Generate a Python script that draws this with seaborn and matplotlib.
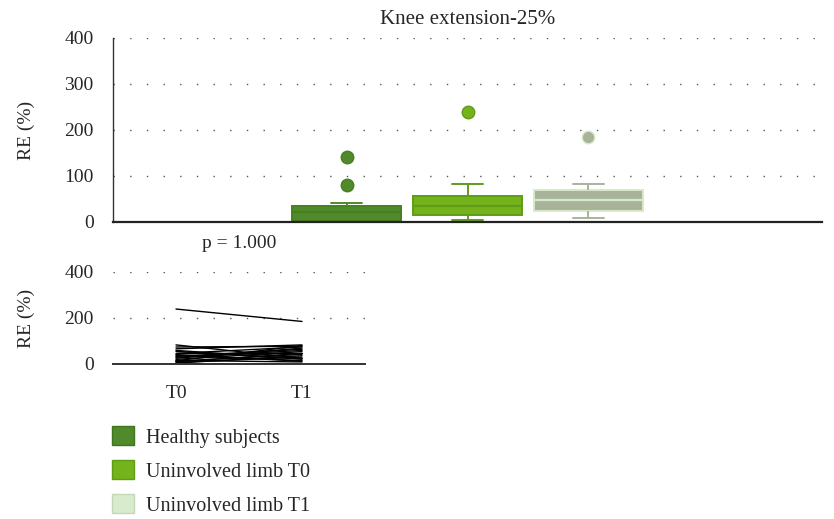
import numpy as np
import pandas as pd
import matplotlib
matplotlib.use("Agg")
import matplotlib.pyplot as plt
from matplotlib.patches import Patch
import seaborn as sns

# ---- data ----
groups = ["Healthy subjects", "Uninvolved limb T0", "Uninvolved limb T1"]
healthy = [0, 1, 2, 2.5, 3.2, 8, 15, 20, 24, 28, 32, 34, 38, 41, 80, 141]
# paired uninvolved-limb values, subject order
limb_t0 = [239, 12, 55, 4, 33, 83, 15.3, 46, 20, 66, 7, 37, 29, 59, 10, 74, 25, 41, 14, 50]
limb_t1 = [185, 42, 21, 36, 64, 25, 9, 74, 54, 83, 30, 15, 59, 22.3, 46, 77, 69, 12, 80, 50]
time_labels = ["T0", "T1"]
p_text = "p = 1.000"
title = "Knee extension-25%"
yticks = [0, 100, 200, 300, 400]
yticks_small = [0, 200, 400]

fills = ["#508a2b", "#74b31c", "#a9b39a"]
edges = ["#47801f", "#5f9d17", "#d6eac8"]
whisk = ["#508a2b", "#5f9d17", "#a9b39a"]
legend_fills = ["#508a2b", "#74b31c", "#d9ebcd"]
legend_edges = ["#3f7420", "#5f9d17", "#c4d8b6"]

sns.set_theme(style="white")
plt.rcParams["font.family"] = ["Liberation Serif", "DejaVu Serif"]
plt.rcParams["font.size"] = 14

df = pd.DataFrame({
    "group": [groups[0]] * len(healthy) + [groups[1]] * len(limb_t0) + [groups[2]] * len(limb_t1),
    "RE": healthy + limb_t0 + limb_t1,
})

fig = plt.figure(figsize=(8.34, 5.19), dpi=100)
ax = fig.add_axes([113 / 834, 1 - 222 / 519, (822 - 113) / 834, (222 - 38) / 519])
ax2 = fig.add_axes([113 / 834, 1 - 364 / 519, (365 - 113) / 834, (364 - 272) / 519])

for i, g in enumerate(groups):
    sub = df[df["group"] == g]
    sns.boxplot(data=sub, x="group", y="RE", order=groups, ax=ax, width=0.9,
                color=fills[i], saturation=1, whis=1.0, linewidth=1.4,
                boxprops=dict(facecolor=fills[i], edgecolor=edges[i]),
                medianprops=dict(color=edges[i], linewidth=1.6),
                whiskerprops=dict(color=whisk[i]),
                capprops=dict(color=whisk[i]),
                flierprops=dict(marker="o", markerfacecolor=fills[i],
                                markeredgecolor=edges[i], markersize=9),
                capwidths=0.25)

ax.set_xlim(-1.93, 3.93)
ax.set_ylim(0, 400)
ax.set_yticks(yticks)
ax.set_xticks([])
ax.set_xlabel("")
ax.set_ylabel("RE (%)", fontsize=14, labelpad=21)
ax.set_title(title, fontsize=15, pad=10)
ax.grid(axis="y", color="#555555", linestyle=(0, (1, 11)), linewidth=1.0)
ax.set_axisbelow(True)
for s in ["top", "right"]:
    ax.spines[s].set_visible(False)
ax.spines["left"].set_color("#333333")
ax.spines["bottom"].set_color("#222222")
ax.spines["bottom"].set_linewidth(1.6)
ax.spines["left"].set_linewidth(1.0)
ax.tick_params(axis="y", length=0, pad=14, labelsize=14)

# paired lines
n = len(limb_t0)
pairs = pd.DataFrame({
    "subject": list(range(n)) * 2,
    "time": [time_labels[0]] * n + [time_labels[1]] * n,
    "RE": limb_t0 + limb_t1,
})
sns.lineplot(data=pairs, x="time", y="RE", units="subject", estimator=None,
             color="black", linewidth=1.0, ax=ax2, legend=False)
ax2.set_xlim(-0.5, 1.5)
ax2.set_ylim(0, 400)
ax2.set_yticks(yticks_small)
ax2.set_xlabel("")
ax2.set_ylabel("RE (%)", fontsize=14, labelpad=21)
ax2.set_title(p_text, fontsize=14, pad=17)
ax2.grid(axis="y", color="#555555", linestyle=(0, (1, 11)), linewidth=1.0)
ax2.set_axisbelow(True)
for s in ["top", "right", "left"]:
    ax2.spines[s].set_visible(False)
ax2.spines["bottom"].set_color("#333333")
ax2.spines["bottom"].set_linewidth(1.4)
ax2.tick_params(axis="both", length=0, labelsize=14)
ax2.tick_params(axis="y", pad=14)
ax2.tick_params(axis="x", pad=15)

handles = [Patch(facecolor=legend_fills[i], edgecolor=legend_edges[i], label=groups[i])
           for i in range(3)]
fig.legend(handles=handles, loc="upper left", bbox_to_anchor=(104 / 834, 1 - 418 / 519),
           frameon=False, fontsize=14.5, handlelength=1.1, handleheight=1.1,
           handletextpad=0.6, labelspacing=0.62, borderaxespad=0)

fig.savefig("out.png", dpi=100)
